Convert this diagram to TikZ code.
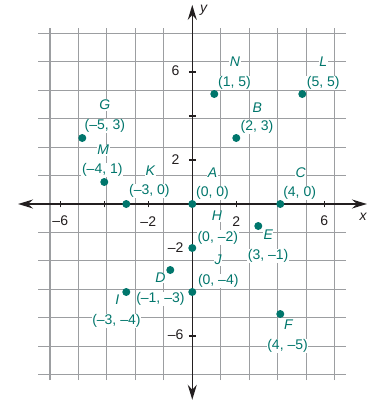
\documentclass[tikz,border=0pt]{standalone}
\usepackage{fontspec}
\setmainfont{Liberation Sans}
\usetikzlibrary{positioning, arrows.meta, calc}
\definecolor{ptteal}{HTML}{00766C}
\definecolor{gridgray}{HTML}{9C9EA1}
\definecolor{axisblack}{HTML}{231F20}

\begin{document}
\begin{tikzpicture}[x=22pt, y=22pt, font=\fontsize{14}{16}\selectfont,
    pt/.style={circle, fill=ptteal, inner sep=0pt, minimum size=8pt},
    ptname/.style={text=ptteal, fill=white, inner sep=0.6pt, font=\fontsize{14}{16}\selectfont\itshape},
    ptcoord/.style={text=ptteal, fill=white, inner sep=0.6pt},
    ticklbl/.style={text=axisblack, fill=white, inner sep=0.6pt}]
        \useasboundingbox (-8.74,-9.0) rectangle (8.395,9.273);
        \draw[gridgray, line width=1.1pt] (-7,-8) grid (7,8);
        \draw[axisblack, line width=1.5pt, {Stealth[length=15pt, width=9pt, inset=5pt]}-{Stealth[length=15pt, width=9pt, inset=5pt]}] (-7.92,0) -- (7.94,0);
        \draw[axisblack, line width=1.5pt, {Stealth[length=15pt, width=9pt, inset=5pt]}-{Stealth[length=15pt, width=9pt, inset=5pt]}] (0,-8.9) -- (0,9.05);
        \node[text=axisblack, font=\fontsize{14}{16}\selectfont\itshape] (xlbl) at (7.76,-0.6) {x};
        \node[text=axisblack, font=\fontsize{14}{16}\selectfont\itshape] (ylbl) at (0.52,8.8) {y};
        \foreach \t in {-6,-4,-2,2,4,6} {
          \draw[axisblack, line width=1.2pt] (\t,-0.15) -- (\t,0.15);
          \draw[axisblack, line width=1.2pt] (-0.15,\t) -- (0.15,\t);
        }
        \foreach \t in {-6,-2,2,6} {
          \node[ticklbl] (xt\t) at (\t,-0.78) {\ifnum\t<0 –\number-\t\else\t\fi};
          \node[ticklbl] (yt\t) at (-0.76,\t+0.04) {\ifnum\t<0 –\number-\t\else\t\fi};
        }
        \foreach \n/\x/\y/\ax/\ay/\bx/\by/\c in {
            G/-5/3/1.03/1.5/1.03/0.54/{(–5, 3)},
            M/-4/1/-0.05/1.45/-0.09/0.54/{(–4, 1)},
            K/-3/0/1.09/1.52/1.05/0.6/{(–3, 0)},
            A/0/0/0.92/1.44/0.92/0.5/{(0, 0)},
            C/4/0/0.93/1.44/0.88/0.5/{(4, 0)},
            N/1/5/0.94/1.47/0.92/0.5/{(1, 5)},
            L/5/5/0.95/1.47/0.95/0.5/{(5, 5)},
            B/2/3/0.95/1.4/0.94/0.49/{(2, 3)},
            H/0/-2/1.12/1.45/1.16/0.48/{(0, –2)},
            J/0/-4/1.18/1.45/1.18/0.5/{(0, –4)},
            E/3/-1/0.45/-0.4/0.45/-1.38/{(3, –1)},
            D/-1/-3/-0.45/-0.36/-0.45/-1.32/{(–1, –3)},
            I/-3/-4/-0.41/-0.36/-0.45/-1.32/{(–3, –4)},
            F/4/-5/0.37/-0.5/0.33/-1.47/{(4, –5)}} {
          \node[pt] (\n) at (\x,\y) {};
          \node[ptname] (\n-name) at ($(\n)+(\ax,\ay)$) {\n};
          \node[ptcoord] (\n-coord) at ($(\n)+(\bx,\by)$) {\c};
        }
      \end{tikzpicture}
\end{document}
